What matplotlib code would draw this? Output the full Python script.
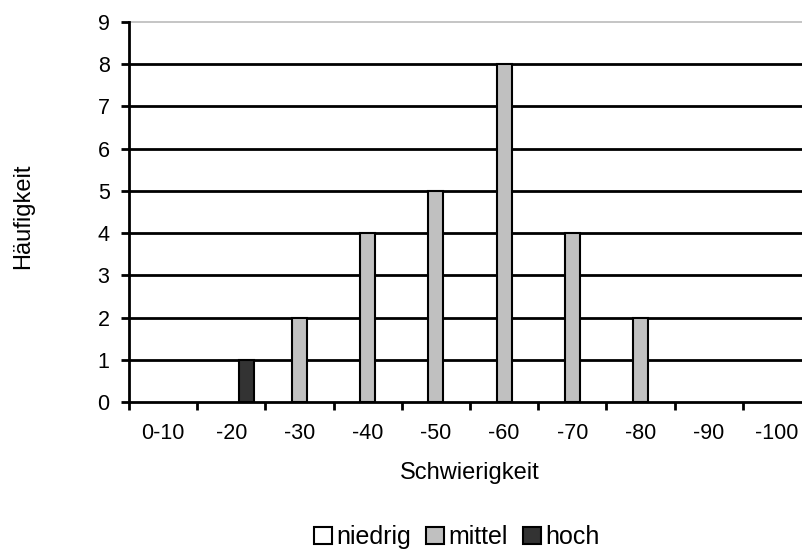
import numpy as np
import matplotlib
matplotlib.use("Agg")
import matplotlib.pyplot as plt
from matplotlib.patches import Patch

categories = ["0-10", "-20", "-30", "-40", "-50", "-60", "-70", "-80", "-90", "-100"]
series_names = ["niedrig", "mittel", "hoch"]
niedrig = [0, 0, 0, 0, 0, 0, 0, 0, 0, 0]
mittel = [0, 0, 2, 4, 5, 8, 4, 2, 0, 0]
hoch = [0, 1, 0, 0, 0, 0, 0, 0, 0, 0]
colors = ["#FFFFFF", "#C0C0C0", "#333333"]

plt.rcParams["font.family"] = ["Liberation Sans", "DejaVu Sans"]

fig = plt.figure(figsize=(8.03, 5.53), dpi=100)
# plot area runs a little past the right edge, as in the original
ax = fig.add_axes([129 / 803, 151 / 553, 682 / 803, 380 / 553])

x = np.arange(len(categories)) + 0.5
w = 0.222
for i, (vals, col) in enumerate(zip([niedrig, mittel, hoch], colors)):
    vals = np.array(vals)
    mask = vals > 0
    ax.bar(x[mask] + (i - 1) * w, vals[mask], width=w, color=col,
           edgecolor="black", linewidth=1.5, zorder=3)

ax.set_xlim(0, len(categories))
ax.set_ylim(0, 9)
for y in range(1, 9):
    ax.axhline(y, color="black", linewidth=2, zorder=1)
ax.axhline(9, color="#BBBBBB", linewidth=1.2, zorder=1, clip_on=False)

ax.set_yticks(range(0, 10))
ax.set_xticks(np.arange(0, len(categories) + 1))
ax.set_xticklabels([])
ax.set_xticks(x, minor=True)
ax.set_xticklabels(categories, minor=True)
ax.tick_params(axis="x", which="major", direction="out", length=6, width=2)
ax.tick_params(axis="x", which="minor", length=0, pad=15, labelsize=15.5)
ax.tick_params(axis="y", direction="out", length=6, width=2, labelsize=15.5, pad=8)

for s in ["top", "right"]:
    ax.spines[s].set_visible(False)
ax.spines["left"].set_linewidth(2)
ax.spines["bottom"].set_linewidth(2)

fig.text(470 / 803, 1 - 473 / 553, "Schwierigkeit", ha="center", va="center", fontsize=17)
fig.text(23 / 803, 1 - 216 / 553, "Häufigkeit", ha="center", va="center",
         rotation=90, fontsize=17)

handles = [Patch(facecolor=c, edgecolor="black", linewidth=1.5) for c in colors]
fig.legend(handles, series_names, loc="center", bbox_to_anchor=(457 / 803, 1 - 537 / 553),
           ncol=3, frameon=False, fontsize=18, handlelength=0.7, handleheight=0.7,
           handletextpad=0.2, columnspacing=0.6, borderpad=0)

fig.savefig("out.png", dpi=100)
